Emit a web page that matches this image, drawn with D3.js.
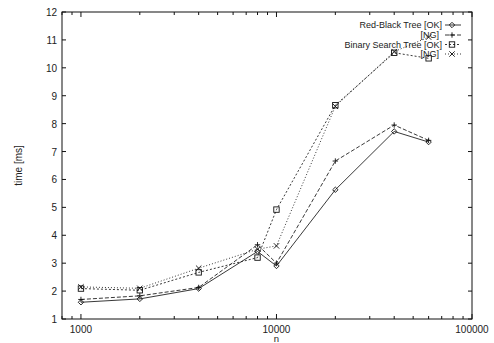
<!DOCTYPE html>
<html>
<head>
<meta charset="utf-8">
<script src="https://cdn.jsdelivr.net/npm/d3@7"></script>
<style>
  body { margin: 0; background: #fff; }
  text { font-family: "Liberation Sans", Arial, sans-serif; fill: #222; }
</style>
</head>
<body>
<script>
// sizes of n
const sizes = [1000, 2000, 4000, 8000, 10000, 20000, 40000, 60000];
// time [ms] per series
const rbOK  = [1.6, 1.72, 2.09, 3.42, 2.9, 5.63, 7.72, 7.34];
const rbNG  = [1.7, 1.83, 2.13, 3.66, 3.0, 6.66, 7.95, 7.4];
const bstOK = [2.09, 2.03, 2.67, 3.2, 4.92, 8.66, 10.54, 10.34];
const bstNG = [2.15, 2.1, 2.82, 3.5, 3.62, 8.62, 10.58, 11.1];
const seriesNames = ["Red-Black Tree [OK]", "[NG]", "Binary Search Tree [OK]", "[NG]"];
const xTicks = [1000, 10000, 100000];
const yTicks = [1, 2, 3, 4, 5, 6, 7, 8, 9, 10, 11, 12];

const width = 494, height = 343;
const margin = {top: 12, right: 22, bottom: 24, left: 62};

const svg = d3.select('body').append('svg')
    .attr('width', width)
    .attr('height', height);

const x = d3.scaleLog().domain([800, 100000]).range([margin.left, width - margin.right]);
const y = d3.scaleLinear().domain([1, 12]).range([height - margin.bottom, margin.top]);

// frame
svg.append('rect')
    .attr('x', x.range()[0]).attr('y', y.range()[1])
    .attr('width', x.range()[1] - x.range()[0])
    .attr('height', y.range()[0] - y.range()[1])
    .attr('fill', 'none').attr('stroke', '#111').attr('stroke-width', 1);

// log minor ticks on x (inside, bottom and top)
const minor = [];
[1000, 10000].forEach(d => { for (let k = 1; k < 10; k++) minor.push(d * k); });
minor.push(800, 900, 100000);
const g = svg.append('g').attr('stroke', '#111').attr('stroke-width', 1);
minor.forEach(v => {
    const major = xTicks.includes(v);
    const len = major ? 5 : 3;
    g.append('line').attr('x1', x(v)).attr('x2', x(v))
        .attr('y1', y(1)).attr('y2', y(1) - len);
    g.append('line').attr('x1', x(v)).attr('x2', x(v))
        .attr('y1', y(12)).attr('y2', y(12) + len);
});
yTicks.forEach(v => {
    g.append('line').attr('x1', x(800)).attr('x2', x(800) + 4).attr('y1', y(v)).attr('y2', y(v));
    g.append('line').attr('x1', x(100000)).attr('x2', x(100000) - 4).attr('y1', y(v)).attr('y2', y(v));
});

// tick labels
svg.selectAll('.xl').data(xTicks).enter().append('text')
    .attr('x', d => x(d)).attr('y', y(1) + 13.5)
    .attr('text-anchor', 'middle').style('font-size', '10px')
    .text(d => d);
svg.selectAll('.yl').data(yTicks).enter().append('text')
    .attr('x', x(800) - 5).attr('y', d => y(d) + 4)
    .attr('text-anchor', 'end').style('font-size', '10px')
    .text(d => d);

// axis titles
svg.append('text').attr('x', x(10000)).attr('y', 342)
    .attr('text-anchor', 'middle').style('font-size', '9.5px').text('n');
svg.append('text').attr('transform', `translate(22,${(y(1) + y(12)) / 2}) rotate(-90)`)
    .attr('text-anchor', 'middle').style('font-size', '10px').text('time [ms]');

// series
const series = [
    {vals: rbOK,  dash: null,  mark: 'diamond'},
    {vals: rbNG,  dash: '4,2', mark: 'plus'},
    {vals: bstOK, dash: '2,2', mark: 'square'},
    {vals: bstNG, dash: '1,2', mark: 'cross'}
];

const line = d3.line().x(d => x(d[0])).y(d => y(d[1]));

function drawMark(sel, type, cx, cy) {
    const s = 2.7;
    if (type === 'diamond') {
        sel.append('path').attr('d', `M${cx},${cy - s}L${cx + s},${cy}L${cx},${cy + s}L${cx - s},${cy}Z`)
            .attr('fill', 'none').attr('stroke', '#111');
    } else if (type === 'plus') {
        sel.append('path').attr('d', `M${cx - s},${cy}H${cx + s}M${cx},${cy - s}V${cy + s}`)
            .attr('stroke', '#111');
    } else if (type === 'square') {
        sel.append('rect').attr('x', cx - s).attr('y', cy - s).attr('width', 2 * s).attr('height', 2 * s)
            .attr('fill', 'none').attr('stroke', '#111');
    } else {
        sel.append('path').attr('d', `M${cx - s},${cy - s}L${cx + s},${cy + s}M${cx - s},${cy + s}L${cx + s},${cy - s}`)
            .attr('stroke', '#111');
    }
}

series.forEach(sr => {
    const pts = sizes.map((n, i) => [n, sr.vals[i]]);
    svg.append('path').datum(pts)
        .attr('d', line)
        .attr('fill', 'none').attr('stroke', '#222').attr('stroke-width', 0.9)
        .attr('stroke-dasharray', sr.dash);
    const mg = svg.append('g').attr('stroke-width', 0.9);
    pts.forEach(p => drawMark(mg, sr.mark, x(p[0]), y(p[1])));
});

// legend
const legY = [25, 35, 44.5, 54];
series.forEach((sr, i) => {
    const ly = legY[i];
    svg.append('text').attr('x', i % 2 ? 439 : 442).attr('y', ly + 3.2)
        .attr('text-anchor', 'end').style('font-size', '9px').text(seriesNames[i]);
    svg.append('line').attr('x1', 445).attr('x2', 461).attr('y1', ly).attr('y2', ly)
        .attr('stroke', '#222').attr('stroke-width', 0.9).attr('stroke-dasharray', sr.dash);
    const mg = svg.append('g').attr('stroke-width', 0.9);
    drawMark(mg, sr.mark, 452, ly);
});
</script>
</body>
</html>
